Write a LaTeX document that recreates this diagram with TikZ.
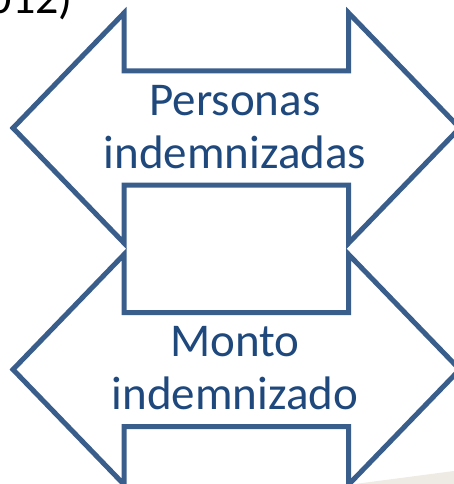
\documentclass[tikz,border=0pt]{standalone}
\usepackage{fontspec}
\setmainfont{Carlito}
\definecolor{arrowline}{HTML}{3A5E8C}
\definecolor{arrowtext}{HTML}{1F497D}
\definecolor{swoosh}{HTML}{EEEAE4}
\tikzset{
  dblarrow/.style={draw=arrowline, line width=5pt, miter limit=10, fill=white},
  arrowlabel/.style={text=arrowtext, font=\fontsize{47}{53}\selectfont, align=center, inner sep=0pt, anchor=base},
}
\newcommand{\dblarrowpath}[2]{%
  \draw[dblarrow] (13,#2) -- (124,#2-115) -- (124,#2-57) -- (348.7,#2-57) -- (348.7,#2-115)
    -- (459.8,#2) -- (348.7,#2+115) -- (348.7,#2+57) -- (124,#2+57) -- (124,#2+115) -- cycle;}
\begin{document}
\begin{tikzpicture}[x=1pt,y=-1pt]
\useasboundingbox (0,0) rectangle (454,484);
\clip (0,0) rectangle (454,484);
\fill[swoosh] (355,484) -- (454,471) -- (454,484) -- cycle;
\node[font=\fontsize{46}{53}\selectfont, inner sep=0pt, anchor=base east] (title) at (73,14) {(2012)};
\dblarrowpath{236}{128}
\dblarrowpath{236}{369.5}
\node[arrowlabel] (personas) at (235,168) {Personas\\indemnizadas};
\node[arrowlabel] (monto) at (235,409.5) {Monto\\indemnizado};
\end{tikzpicture}
\end{document}
